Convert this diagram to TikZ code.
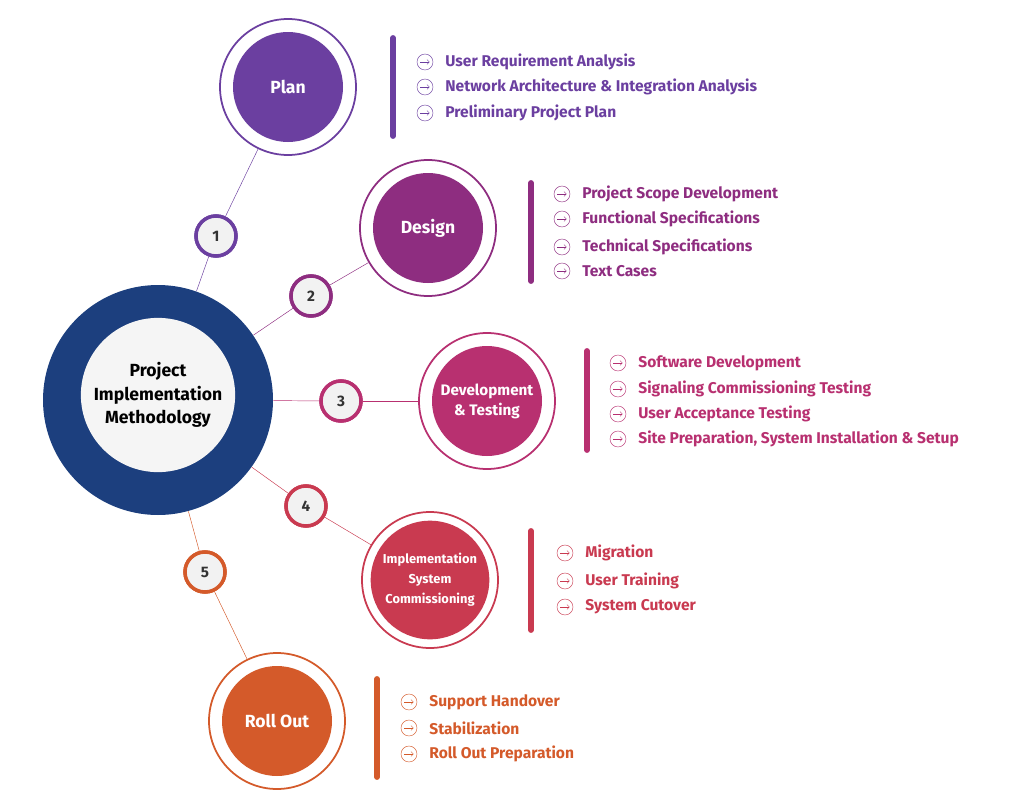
\documentclass[tikz,border=0pt]{standalone}
\usepackage{fontspec}
\setmainfont{Fira Sans}
\usetikzlibrary{arrows.meta,positioning}
\definecolor{cplan}{HTML}{6B3FA0}
\definecolor{cdesign}{HTML}{8E2D80}
\definecolor{cdev}{HTML}{B83070}
\definecolor{cimpl}{HTML}{C93A50}
\definecolor{croll}{HTML}{D45A2A}
\definecolor{ccore}{HTML}{1C3F7E}
\begin{document}
\begin{tikzpicture}[x=0.03cm,y=-0.03cm,thick,
  ring/.style={circle,draw=#1,line width=1.5pt,fill=white,minimum size=136*0.03cm},
  stage node/.style={circle,fill=#1,draw=none,minimum size=110*0.03cm,text=white,
    font=\bfseries\fontsize{15}{17}\selectfont,align=center},
  num node/.style={circle,draw=#1,line width=3pt,fill=gray!10,minimum size=40*0.03cm,
    font=\bfseries\fontsize{13}{15}\selectfont,text=black!80},
  bar/.style={line width=5pt,draw=#1,line cap=round},
  item/.style={anchor=west,text=#1,font=\bfseries\fontsize{13.3}{15}\selectfont},
  icon/.style={circle,draw=#1,thin,minimum size=16*0.03cm,inner sep=0pt}]
  \useasboundingbox (0,0) rectangle (1024,809);
  % core
  \node[circle,fill=ccore,minimum size=230*0.03cm] (core) at (158,400) {};
  \node[circle,fill=gray!8,minimum size=140*0.03cm,align=center,
    font=\bfseries\fontsize{15}{20}\selectfont] (coretext) at (158,395)
    {Project\\Implementation\\Methodology};
  % stages
  \foreach \name/\col/\x/\y/\n/\nx/\ny/\txt in {
    plan/cplan/288/87/1/216/236/Plan,
    design/cdesign/428/228/2/311/296/Design,
    dev/cdev/487/401/3/341/401/{\fontsize{13}{16}\selectfont Development\\\fontsize{13}{16}\selectfont\& Testing},
    impl/cimpl/430/580/4/306/506/{\fontsize{11}{15}\selectfont Implementation\\\fontsize{11}{15}\selectfont System\\\fontsize{11}{15}\selectfont Commissioning},
    roll/croll/277/721/5/205/572/{Roll Out}} {
    \node[ring=\col] (\name ring) at (\x,\y) {};
    \node[stage node=\col] (\name) at (\x,\y) {\txt};
    \node[num node=\col] (\name num) at (\nx,\ny) {\n};
    \draw[\col,thin] (core) -- (\name num);
    \draw[\col,thin] (\name num) -- (\name ring);
    \node[num node=\col] at (\nx,\ny) {\n};
  }
  % item lists
  \foreach \col/\bx/\ya/\yb/\ix/\items in {
    cplan/393/38/136/425/{62/User Requirement Analysis,87/Network Architecture \& Integration Analysis,113/Preliminary Project Plan},
    cdesign/531/183/281/562/{194/Project Scope Development,219/Functional Specifications,247/Technical Specifications,271/Text Cases},
    cdev/587/351/450/618/{363/Software Development,389/Signaling Commissioning Testing,414/User Acceptance Testing,439/{Site Preparation, System Installation \& Setup}},
    cimpl/531/531/630/565/{553/Migration,581/User Training,607/System Cutover},
    croll/377/679/777/409/{702/Support Handover,728/Stabilization,754/Roll Out Preparation}} {
    \draw[bar=\col] (\bx,\ya) -- (\bx,\yb);
    \foreach \iy/\itxt in \items {
      \node[icon=\col] (ic) at (\ix,\iy) {};
      \draw[\col,thin,-{Straight Barb[length=2pt]}] ([xshift=-4pt]ic.center) -- ([xshift=4pt]ic.center);
      \node[item=\col] at (\ix+16,\iy) {\itxt};
    }
  }
\end{tikzpicture}
\end{document}
